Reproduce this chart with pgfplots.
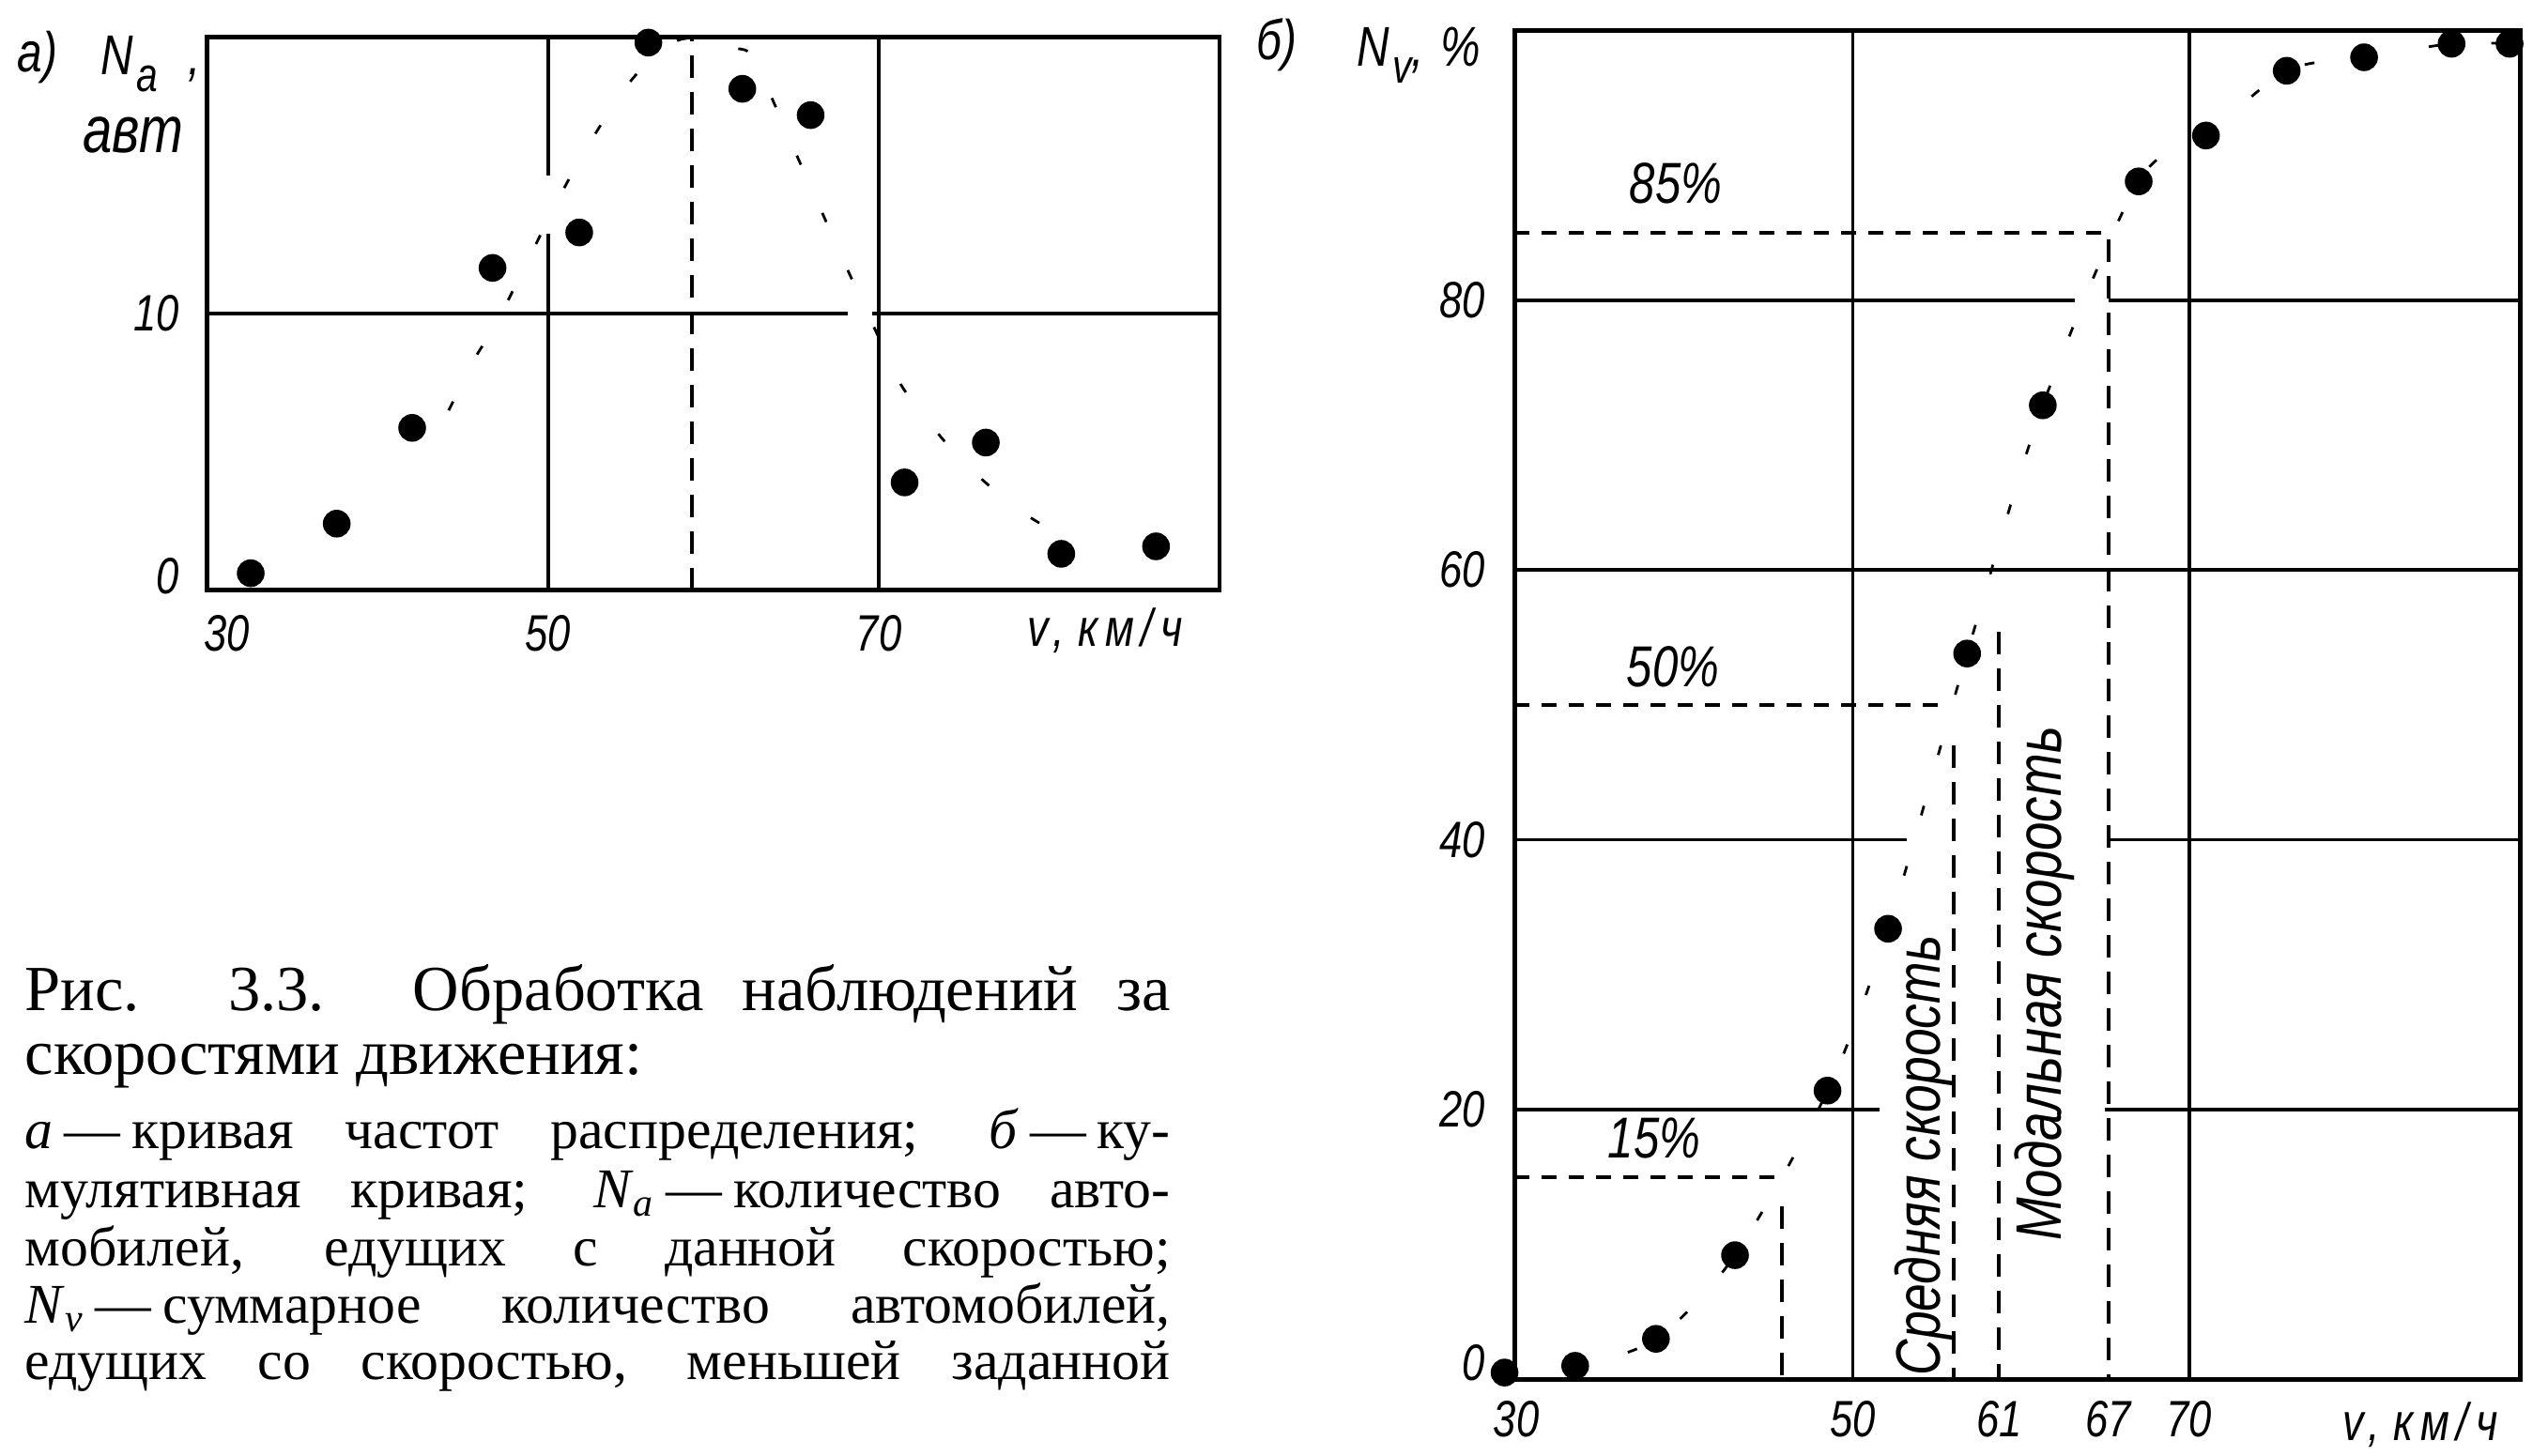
\documentclass[border=0pt]{standalone}
\usepackage{fontspec}
\usepackage{pgfplots}
\pgfplotsset{compat=1.18}
\setmainfont{Liberation Serif}
\newfontfamily\gost[FakeStretch=0.8]{Liberation Sans}
\newcommand{\lbl}[1]{\gost\itshape\fontsize{#1}{#1}\selectfont}
\newcommand{\unitlbl}{\lbl{16}\addfontfeature{LetterSpace=14}v,\kern0.25em км/ч}

\pgfplotsset{
  panel/.style={
    scale only axis, clip=false, anchor=south west,
    axis line style={line width=1.4pt},
    major tick length=0pt, tick style={draw=none},
    ticklabel style={font=\lbl{15.5}, inner sep=0pt},
    /pgf/number format/assume math mode=true,
  },
  gridln/.style={black, line width=1.05pt},
  vdash/.style={black, line width=1.2pt, dash pattern=on 2.4mm off 1.5mm},
  hdash/.style={black, line width=1.2pt, dash pattern=on 1.6mm off 1.3mm},
  faint/.style={black, line width=0.8pt, smooth, tension=0.5, dash pattern=on 3pt off 16pt},
  dots/.style={only marks, mark=*, mark size=4pt, black},
}

\begin{document}
\begin{tikzpicture}
\path[use as bounding box] (0,0) rectangle (271.4mm,155.1mm);

% ---------- a) frequency distribution ----------
\begin{axis}[panel,
  at={(22.07mm,92.21mm)}, width=107.83mm, height=58.97mm,
  xmin=29.4, xmax=90.6, ymin=0, ymax=20,
  xtick={50,70}, ytick={10},
  extra x ticks={30}, extra x tick style={xticklabel style={xshift=1mm}},
  extra y ticks={0}, extra y tick style={yticklabel style={yshift=1.5mm}},
  xticklabel style={anchor=north, yshift=-2.6mm},
  yticklabel style={anchor=east, xshift=-2.9mm},
]
\addplot[gridln] coordinates {(50,0) (50,12.9)};
\addplot[gridln] coordinates {(50,15) (50,20)};
\addplot[gridln] coordinates {(70,0) (70,20)};
\addplot[gridln] coordinates {(29.4,10) (68.1,10)};
\addplot[gridln] coordinates {(69.6,10) (90.6,10)};
% mean speed
\addplot[vdash] coordinates {(58.7,0) (58.7,20)};
% fitted distribution curve
\addplot[faint] coordinates {(44.0,6.5) (45.6,8.4) (47.1,9.9) (51.4,15.0) (55.0,18.4)
  (58.0,19.9) (61.3,19.6) (62.5,19.1) (65.2,15.5) (68.1,11.6) (70.5,8.5)
  (71.7,7.1) (75.0,4.7) (78.5,2.9) (81.0,2.0)};
% observed counts
\addplot[dots] coordinates {(32.03,0.62) (37.23,2.41) (41.79,5.87) (46.65,11.65)
  (51.89,12.93) (56.07,19.79) (61.75,18.12) (65.88,17.17) (71.56,3.90)
  (76.47,5.34) (81.03,1.32) (86.76,1.59)};
\end{axis}

% ---------- b) cumulative curve ----------
\begin{axis}[panel,
  at={(161.33mm,8.17mm)}, width=107.14mm, height=143.7mm,
  xmin=29.9, xmax=89.7, ymin=0, ymax=100,
  xtick={30,50,70}, ytick={20,40,60,80},
  extra x ticks={58.7,65.2}, extra x tick labels={61,67},
  extra y ticks={0}, extra y tick style={yticklabel style={yshift=1.8mm}},
  xticklabel style={anchor=north, yshift=-2.2mm},
  yticklabel style={anchor=east, xshift=-3.1mm},
]
\addplot[gridln] coordinates {(50,0) (50,100)};
\addplot[gridln] coordinates {(70,0) (70,100)};
\addplot[gridln] coordinates {(29.9,20) (51.6,20)};
\addplot[gridln] coordinates {(65.0,20) (89.7,20)};
\addplot[gridln] coordinates {(29.9,40) (53.2,40)};
\addplot[gridln] coordinates {(65.2,40) (89.7,40)};
\addplot[gridln] coordinates {(29.9,60) (89.7,60)};
\addplot[gridln] coordinates {(29.9,80) (63.2,80)};
\addplot[gridln] coordinates {(65.2,80) (89.7,80)};
% percentile guides
\addplot[hdash] coordinates {(29.9,15) (45.4,15)};
\addplot[vdash] coordinates {(45.8,12.8) (45.8,0)};
\addplot[hdash] coordinates {(29.9,50) (55.7,50)};
\addplot[vdash] coordinates {(56.0,47) (56.0,0)};
\addplot[vdash] coordinates {(58.7,55.4) (58.7,0)};
\addplot[hdash] coordinates {(29.9,85) (65.2,85)};
\addplot[vdash] coordinates {(65.2,84.5) (65.2,0)};
% cumulative curve
\addplot[faint] coordinates {(29.3,0.5) (33.5,1.0) (38.3,3.0) (43.0,9.2) (48.5,21.4)
  (52.1,33.4) (56.8,53.8) (61.3,72.2) (67.0,88.8) (71.0,92.2) (75.8,97.0)
  (80.4,98.0) (85.6,99.0) (89.05,99.0)};
\addplot[dots] coordinates {(29.3,0.5) (33.5,1.0) (38.3,3.0) (43.0,9.2) (48.5,21.4)
  (52.1,33.4) (56.8,53.8) (61.3,72.2) (67.0,88.8) (71.0,92.2) (75.8,97.0)
  (80.4,98.0) (85.6,99.0) (89.05,99.0)};
\end{axis}

% ---------- axis titles and annotations ----------
\node[font=\lbl{17}] at (4.0mm,149.0mm) {а)};
\node[font=\lbl{17}, anchor=base west, inner sep=0pt] at (10.7mm,147.1mm)
  {N\kern0.05em\raisebox{-0.3em}{\fontsize{14.5}{14.5}\selectfont а}\kern0.55em,};
\node[font=\lbl{20}, anchor=base west, inner sep=0pt] at (8.8mm,138.8mm) {авт};
\node[anchor=center] at (117.7mm,87.9mm) {\unitlbl};

\node[font=\lbl{17}] at (136.0mm,150.3mm) {б)};
\node[font=\lbl{17}, anchor=base west, inner sep=0pt] at (144.5mm,148.0mm)
  {N\kern0.05em\raisebox{-0.3em}{\fontsize{14.5}{14.5}\selectfont v},\kern0.3em\%};
\node[anchor=center] at (257.8mm,3.3mm) {\unitlbl};

\node[font=\lbl{17.5}] at (178.5mm,135.55mm) {85\%};
\node[font=\lbl{17.5}] at (178.2mm,84.05mm) {50\%};
\node[font=\lbl{17.5}] at (176.2mm,33.9mm) {15\%};
\node[font=\lbl{19}, rotate=90] at (204.9mm,31.99mm) {Средняя скорость};
\node[font=\lbl{19.5}, rotate=90] at (217.8mm,50.3mm) {Модальная скорость};

% ---------- caption ----------
\begin{scope}[every node/.style={anchor=base west, inner sep=0pt}]
\node[font=\fontsize{19.5}{19.5}\selectfont] at (2.6mm,47.43mm)
  {\makebox[122mm][s]{Рис. 3.3. Обработка наблюдений за}};
\node[font=\fontsize{19.5}{19.5}\selectfont] at (2.6mm,40.68mm) {скоростями движения:};
\node[font=\fontsize{17}{17}\selectfont] at (2.6mm,32.72mm)
  {\makebox[122mm][s]{\textit{а}\kern0.2em—\kern0.2em кривая частот распределения; \textit{б}\kern0.2em—\kern0.2em ку-}};
\node[font=\fontsize{17}{17}\selectfont] at (2.6mm,26.49mm)
  {\makebox[122mm][s]{мулятивная кривая; \textit{N}\textsubscript{\textit{а}}\kern0.2em—\kern0.2em количество авто-}};
\node[font=\fontsize{17}{17}\selectfont] at (2.6mm,20.25mm)
  {\makebox[122mm][s]{мобилей, едущих с данной скоростью;}};
\node[font=\fontsize{17}{17}\selectfont] at (2.6mm,14.19mm)
  {\makebox[122mm][s]{\textit{N}\textsubscript{\textit{v}}\kern0.2em—\kern0.2em суммарное количество автомобилей,}};
\node[font=\fontsize{17}{17}\selectfont] at (2.6mm,8.14mm)
  {\makebox[122mm][s]{едущих со скоростью, меньшей заданной}};
\end{scope}
\end{tikzpicture}
\end{document}
